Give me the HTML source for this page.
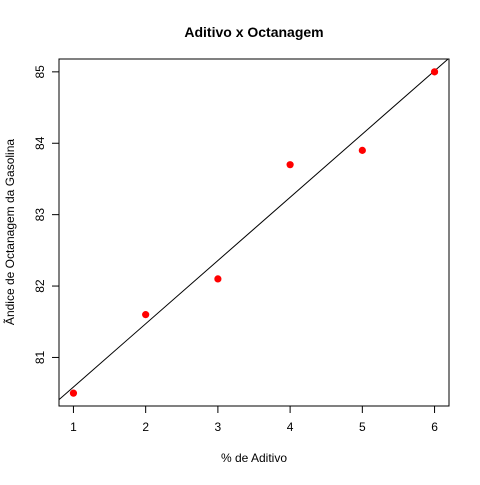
<!DOCTYPE html>
<html><head><meta charset="utf-8"><style>
body{margin:0;background:#fff;}
svg text{font-family:"Liberation Sans",Arial,sans-serif;fill:#000;}
</style></head><body>
<svg width="480" height="480" xmlns="http://www.w3.org/2000/svg">
<rect width="480" height="480" fill="#fff"/>
<g id="g"></g>
</svg>
<script>
const xs=[1,2,3,4,5,6];
const ys=[80.5,81.6,82.1,83.7,83.9,85.0];
const xTicks=[1,2,3,4,5,6];
const yTicks=[81,82,83,84,85];
const NS="http://www.w3.org/2000/svg";
const g=document.getElementById('g');
const X0=59,X1=449,Y0=59,Y1=406;
const xmin=Math.min(...xs),xmax=Math.max(...xs),ymin=Math.min(...ys),ymax=Math.max(...ys);
const xa=xmin-0.04*(xmax-xmin),xb=xmax+0.04*(xmax-xmin);
const ya=ymin-0.04*(ymax-ymin),yb=ymax+0.04*(ymax-ymin);
const sx=v=>X0+(v-xa)/(xb-xa)*(X1-X0);
const sy=v=>Y1-(v-ya)/(yb-ya)*(Y1-Y0);
function el(t,a,txt){const e=document.createElementNS(NS,t);for(const k in a)e.setAttribute(k,a[k]);if(txt!==undefined)e.textContent=txt;g.appendChild(e);return e;}
let e=el('rect',{x:X0,y:Y0,width:X1-X0,height:Y1-Y0,fill:'none',stroke:'#000'});


// regression line
const n=xs.length,mx=xs.reduce((a,b)=>a+b)/n,my=ys.reduce((a,b)=>a+b)/n;
let sxy=0,sxx=0;for(let i=0;i<n;i++){sxy+=(xs[i]-mx)*(ys[i]-my);sxx+=(xs[i]-mx)**2;}
const b=sxy/sxx,a=my-b*mx;
const cp=el('clipPath',{id:'cp'});const r=document.createElementNS(NS,'rect');
r.setAttribute('x',X0);r.setAttribute('y',Y0);r.setAttribute('width',X1-X0);r.setAttribute('height',Y1-Y0);cp.appendChild(r);
e=el('line',{x1:sx(xa),y1:sy(a+b*xa),x2:sx(xb),y2:sy(a+b*xb),stroke:'#000','stroke-width':1,'clip-path':'url(#cp)'});


for(let i=0;i<n;i++){
 e=el('circle',{cx:sx(xs[i]),cy:sy(ys[i]),r:3.6,fill:'#ff0000'});
 
 
}
for(const t of xTicks){
 e=el('line',{x1:sx(t),y1:Y1,x2:sx(t),y2:Y1+7,stroke:'#000'});
 
 
 e=el('text',{x:sx(t),y:Y1+25,'font-size':12,'text-anchor':'middle'},t);
 
 
}
for(const t of yTicks){
 e=el('line',{x1:X0-7,y1:sy(t),x2:X0,y2:sy(t),stroke:'#000'});
 
 
 e=el('text',{x:44,y:sy(t),'font-size':12,'text-anchor':'middle',transform:`rotate(-90 44 ${sy(t)})`},t);
 
 
}
e=el('text',{x:254,y:37,'font-size':14,'font-weight':'bold','text-anchor':'middle'},'Aditivo x Octanagem');


e=el('text',{x:254,y:462,'font-size':12,'text-anchor':'middle'},'% de Aditivo');


e=el('text',{x:14,y:232,'font-size':12,'text-anchor':'middle',transform:'rotate(-90 14 232)'},'Ãndice de Octanagem da Gasolina');


</script>
</body></html>
